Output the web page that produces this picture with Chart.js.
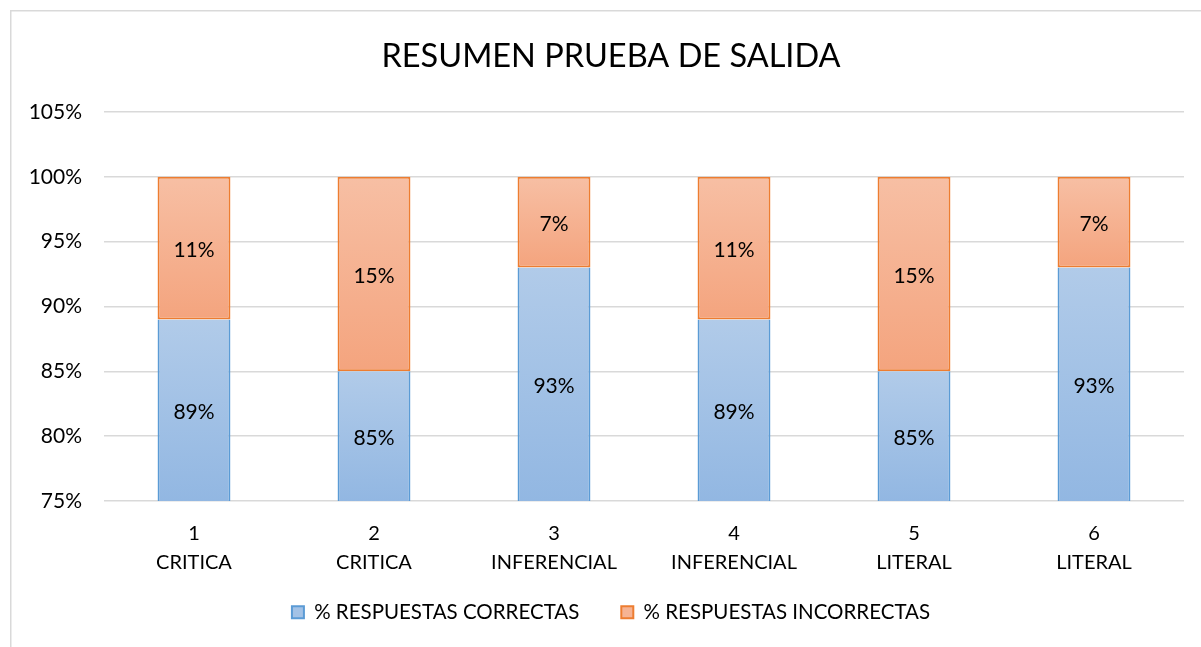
<!DOCTYPE html>
<html>
<head>
<meta charset="utf-8">
<script src="https://cdn.jsdelivr.net/npm/chart.js@4/dist/chart.umd.min.js"></script>
<style>
  html, body { margin: 0; padding: 0; background: #ffffff; }
  #wrap { width: 1201px; height: 647px; position: relative; }
</style>
</head>
<body>
<div id="wrap"><canvas id="c" width="1201" height="647"></canvas></div>
<script>
const chartTitle = 'RESUMEN PRUEBA DE SALIDA';
const categoryNumbers = ['1', '2', '3', '4', '5', '6'];
const categoryTypes = ['CRITICA', 'CRITICA', 'INFERENCIAL', 'INFERENCIAL', 'LITERAL', 'LITERAL'];
const seriesNames = ['% RESPUESTAS CORRECTAS', '% RESPUESTAS INCORRECTAS'];
const correctas = [89, 85, 93, 89, 85, 93];
const incorrectas = [11, 15, 7, 11, 15, 7];
const yTicks = [75, 80, 85, 90, 95, 100, 105];

const FONT = 'Lato, "Open Sans", "Liberation Sans", sans-serif';
const labels = categoryNumbers.map((n, i) => [n, categoryTypes[i]]);

function barGradient(ctx, topVal, botVal, cTop, cBot) {
  const chart = ctx.chart;
  const area = chart.chartArea;
  const y = chart.scales.y;
  if (!area || !y) return cBot;
  let t = y.getPixelForValue(topVal);
  let b = Math.min(y.getPixelForValue(botVal), area.bottom);
  if (!isFinite(t) || !isFinite(b) || b - t < 1) return cBot;
  const g = chart.ctx.createLinearGradient(0, t, 0, b);
  g.addColorStop(0, cTop);
  g.addColorStop(1, cBot);
  return g;
}

const framePlugin = {
  id: 'frame',
  beforeDraw(chart) {
    const c = chart.ctx;
    c.save();
    c.fillStyle = '#ffffff';
    c.fillRect(0, 0, chart.width, chart.height);
    c.strokeStyle = '#d9d9d9';
    c.lineWidth = 1.5;
    c.strokeRect(10.75, 10.75, chart.width + 20, chart.height + 20);
    c.restore();
  }
};

// let the two-line category labels run below the (shortened) x-axis box
const labelRoomPlugin = {
  id: 'labelRoom',
  afterLayout(chart) {
    const x = chart.scales.x;
    if (x) x.bottom = x.top + 80;
  }
};

const valueLabelPlugin = {
  id: 'valueLabels',
  afterDatasetsDraw(chart) {
    const c = chart.ctx;
    const area = chart.chartArea;
    c.save();
    c.font = '21px ' + FONT;
    c.fillStyle = '#000000';
    c.textAlign = 'center';
    c.textBaseline = 'middle';
    chart.data.datasets.forEach((ds, di) => {
      const meta = chart.getDatasetMeta(di);
      meta.data.forEach((el, i) => {
        const top = Math.max(Math.min(el.y, el.base), area.top);
        const bot = Math.min(Math.max(el.y, el.base), area.bottom);
        c.fillText(ds.data[i] + '%', el.x, (top + bot) / 2 + 2);
      });
    });
    c.restore();
  }
};

new Chart(document.getElementById('c'), {
  type: 'bar',
  data: {
    labels: labels,
    datasets: [
      {
        label: seriesNames[0],
        data: correctas,
        backgroundColor: (ctx) => barGradient(ctx, correctas[ctx.dataIndex], 0, '#b1cbe9', '#92b7e2'),
        borderColor: '#5b9bd5',
        borderWidth: { top: 0, left: 2, right: 2, bottom: 0 },
        borderSkipped: false,
        categoryPercentage: 1,
        barPercentage: 0.405
      },
      {
        label: seriesNames[1],
        data: incorrectas,
        backgroundColor: (ctx) => barGradient(ctx, correctas[ctx.dataIndex] + incorrectas[ctx.dataIndex], correctas[ctx.dataIndex], '#f7bfa4', '#f4a47e'),
        borderColor: '#ed7d31',
        borderWidth: 2,
        borderSkipped: false,
        categoryPercentage: 1,
        barPercentage: 0.405
      }
    ]
  },
  options: {
    responsive: false,
    animation: false,
    devicePixelRatio: 1,
    layout: { padding: { left: 21, right: 0, top: 0, bottom: 20 } },
    plugins: {
      title: {
        display: true,
        text: chartTitle,
        color: '#000000',
        font: { family: FONT, size: 32.5, weight: 'normal', lineHeight: 1.2 },
        padding: { top: 37, bottom: 36 }
      },
      legend: {
        display: true,
        position: 'bottom',
        maxHeight: 67,
        labels: {
          color: '#000000',
          font: { family: FONT, size: 20.5 },
          boxWidth: 12,
          boxHeight: 12,
          padding: 42,
          generateLabels(chart) {
            return chart.data.datasets.map((ds, i) => ({
              text: ds.label,
              fillStyle: i === 0 ? '#a3c2e6' : '#f6b393',
              strokeStyle: ds.borderColor,
              lineWidth: 2,
              datasetIndex: i,
              hidden: false
            }));
          }
        }
      },
      tooltip: { enabled: false }
    },
    scales: {
      x: {
        stacked: true,
        grid: { display: false, drawTicks: false },
        border: { display: false },
        ticks: {
          color: '#000000',
          font: { family: FONT, size: 20, lineHeight: 1.45 },
          padding: 18,
          maxRotation: 0,
          autoSkip: false
        },
        afterFit(scale) { scale.height = 59; }
      },
      y: {
        stacked: true,
        min: yTicks[0],
        max: yTicks[yTicks.length - 1],
        afterBuildTicks(scale) { scale.ticks = yTicks.map(v => ({ value: v })); },
        grid: { color: '#d9d9d9', lineWidth: 1.5, drawTicks: false },
        border: { display: false },
        ticks: {
          color: '#000000',
          font: { family: FONT, size: 21 },
          padding: 22,
          callback: (v) => v + '%'
        },
        afterFit(scale) { scale.width = 83; }
      },
      yRight: {
        type: 'linear',
        position: 'right',
        display: true,
        grid: { display: false, drawTicks: false },
        border: { display: false },
        ticks: { display: false },
        afterFit(scale) { scale.width = 17; }
      }
    }
  },
  plugins: [framePlugin, labelRoomPlugin, valueLabelPlugin]
});
</script>
</body>
</html>
